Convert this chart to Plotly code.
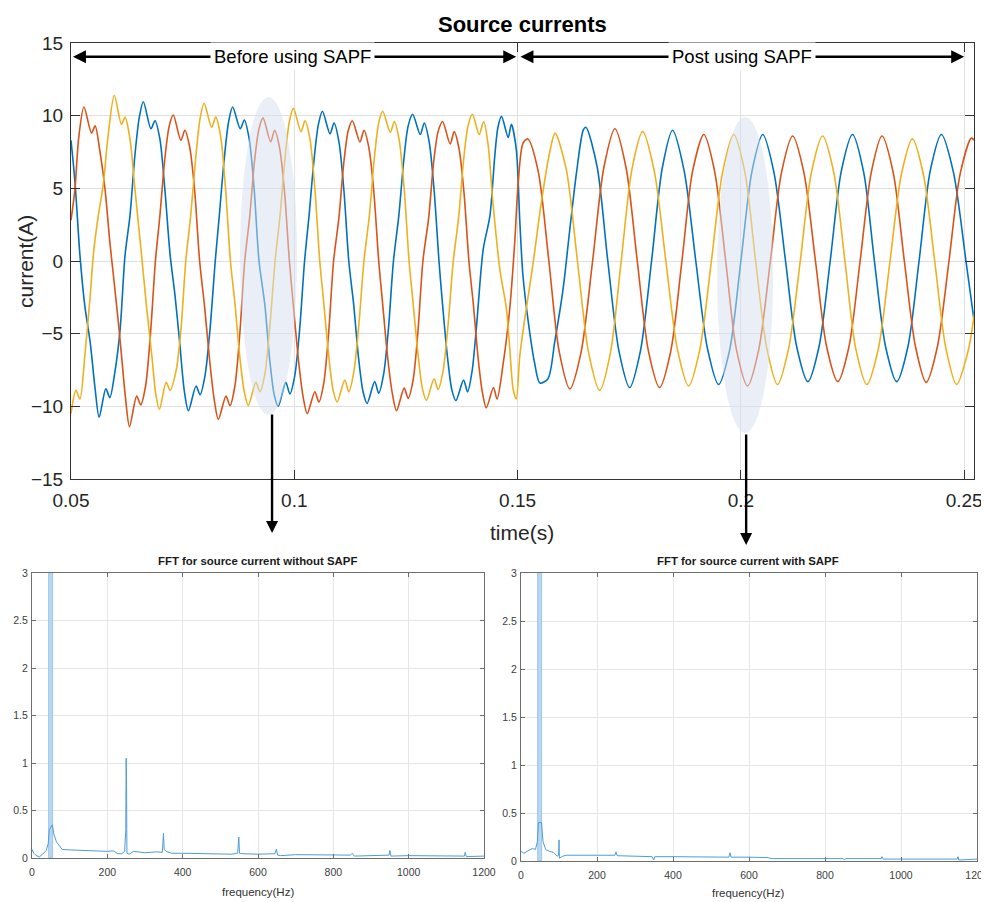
import plotly.graph_objects as go

# ---------------- data ----------------
# three-phase source currents, time in ms
time_blue_ms = [50.0, 50.9, 52.0, 53.1, 54.3, 55.4, 56.3, 57.8, 58.7, 59.8, 61.0, 62.1, 63.2, 64.3, 65.3, 66.2, 67.9, 68.8, 69.9, 71.0,
                72.2, 73.3, 74.3, 75.4, 76.3, 78.0, 78.9, 80.0, 81.1, 82.3, 83.2, 84.3, 85.3, 86.2, 87.9, 88.8, 89.9, 91.0, 92.1,
                93.4, 94.5, 95.5, 96.4, 98.1, 99.0, 100.1, 101.2, 102.3, 103.3, 104.4, 105.4, 106.3, 108.0, 108.9, 110.0, 111.1, 112.2,
                113.3, 114.4, 115.4, 116.3, 118.0, 118.9, 120.0, 121.1, 122.2, 123.4, 124.5, 125.5, 126.5, 128.2, 129.1, 130.2, 131.3, 132.4,
                133.2, 134.3, 135.3, 136.2, 137.9, 138.8, 139.8, 140.8, 142.3, 143.8, 144.9, 145.6, 146.4, 147.9, 148.6, 149.7,
                150.5, 151.2, 152.4, 153.8, 155.0, 156.8, 158.3, 160.2, 161.7, 163.2, 164.7, 165.3,
                167.8, 170.2, 172.7, 175.1, 177.5, 180.0, 182.4, 184.7, 187.3, 189.9, 192.5, 195.0, 197.5, 200.0, 202.5, 204.9,
                207.4, 210.0, 212.5, 215.0, 217.5, 220.0, 222.5, 225.0, 227.5, 229.9, 232.4, 234.9, 237.4, 239.9, 242.4, 244.9,
                247.6, 250.4, 252.3]
cur_blue = [8.3, 5.4, 0.4, -3.1, -5.6, -8.8, -10.75, -8.8, -9.4, -7.7, -4.7, 0.4, 3.1, 7.25, 9.9, 10.96, 9.1, 9.65, 8.4, 5.0,
            0.4, -2.4, -5.5, -9.0, -10.3, -8.6, -9.2, -7.9, -4.8, 0.0, 3.1, 7.0, 9.6, 10.6, 9.1, 9.7, 8.4, 5.0, 0.0,
            -3.0, -6.8, -9.2, -10.0, -8.35, -9.15, -7.9, -4.7, 0.0, 3.1, 6.9, 9.4, 10.3, 8.75, 9.5, 8.2, 4.9, 0.0,
            -3.0, -6.7, -9.0, -9.8, -8.3, -9.1, -7.8, -4.6, 0.0, 3.1, 6.9, 9.3, 10.1, 8.7, 9.5, 8.2, 4.9, 0.0,
            -3.0, -6.6, -8.9, -9.6, -8.2, -9.0, -7.6, -4.5, 0.8, 3.1, 7.25, 9.2, 9.95, 8.5, 9.4, 7.7,
            2.7, -1.0, -4.2, -7.0, -8.4, -8.1, -5.6, -1.9, 2.2, 6.1, 9.0, 9.2,
            6.5, 0.0, -6.2, -8.7, -6.2, 0.0, 6.4, 9.0, 6.2, 0.0, -6.0, -8.5, -6.1, 0.0, 6.2, 8.7,
            6.1, 0.0, -5.9, -8.3, -5.9, 0.0, 6.2, 8.7, 6.1, 0.0, -5.9, -8.3, -5.9, 0.0, 6.2, 8.7,
            6.1, 0.0, -4.3]

time_red_ms = [50.0, 50.9, 51.7, 52.9, 54.6, 55.4, 56.5, 57.6, 58.7, 59.5, 60.6, 61.4, 62.2, 63.1, 64.7, 65.6, 66.7, 67.8, 68.9,
               69.9, 71.0, 72.0, 72.9, 74.6, 75.5, 76.6, 77.7, 78.8, 79.9, 81.1, 82.1, 83.0, 84.7, 85.6, 86.7, 87.8, 88.9,
               90.0, 91.1, 92.1, 93.0, 94.7, 95.6, 96.7, 97.8, 98.9, 99.8, 101.0, 102.0, 102.9, 104.6, 105.5, 106.6, 107.7, 108.8,
               110.0, 111.1, 112.1, 113.0, 114.7, 115.6, 116.7, 117.8, 118.9, 119.8, 121.0, 122.0, 122.9, 124.6, 125.5, 126.6, 127.7, 128.8,
               130.1, 131.2, 132.2, 133.2, 134.9, 135.8, 136.9, 138.0, 139.1, 140.1, 141.2, 142.1, 143.0, 144.6, 145.4, 146.8,
               148.3, 149.4, 150.1, 151.2, 152.3,
               154.6, 157.0, 159.3, 161.7, 164.2, 166.8, 169.3, 171.8, 174.3, 176.8, 179.3, 181.8, 184.3, 186.8, 189.2, 191.7,
               194.1, 196.6, 199.0, 201.5, 204.0, 206.6, 209.1, 211.6, 214.1, 216.7, 219.2, 221.7, 224.2, 226.7, 229.2, 231.6,
               234.1, 236.6, 239.1, 241.5, 244.0, 246.6, 249.1, 251.6, 252.3]
cur_red = [2.8, 5.0, 8.4, 10.6, 8.8, 9.3, 7.5, 5.0, 1.3, -1.0, -4.2, -6.8, -9.4, -11.4, -9.3, -9.9, -8.6, -5.0, 0.0,
           3.1, 7.0, 9.3, 10.05, 8.3, 9.0, 7.8, 4.8, 0.0, -3.1, -7.0, -9.6, -10.9, -9.3, -9.95, -8.6, -5.0, 0.0,
           3.0, 6.9, 9.1, 9.85, 8.2, 9.0, 7.8, 4.8, 0.0, -3.1, -7.0, -9.4, -10.5, -9.0, -9.7, -8.4, -4.9, 0.0,
           3.0, 6.8, 9.0, 9.65, 8.2, 9.0, 7.8, 4.8, 0.0, -3.0, -6.9, -9.2, -10.3, -8.75, -9.45, -8.2, -4.8, 0.0,
           3.0, 6.8, 8.9, 9.6, 8.05, 8.9, 7.7, 4.7, 0.0, -3.0, -6.8, -9.0, -10.1, -8.7, -9.5, -7.0,
           -3.1, 1.5, 5.2, 8.1, 8.4,
           6.2, 0.0, -6.2, -8.8, -6.3, 0.0, 6.4, 9.1, 6.4, 0.0, -6.2, -8.7, -6.2, 0.0, 6.2, 8.7,
           6.2, 0.0, -6.1, -8.6, -6.1, 0.0, 6.1, 8.6, 6.1, 0.0, -5.9, -8.3, -5.9, 0.0, 6.1, 8.6,
           6.1, 0.0, -5.9, -8.35, -5.9, 0.0, 6.0, 8.45, 8.3]

time_yellow_ms = [50.0, 51.1, 52.0, 53.1, 54.3, 55.0, 56.1, 57.2, 58.3, 59.7, 61.3, 62.1, 63.2, 64.3, 65.8, 66.9, 68.1, 69.0, 69.8,
                  71.3, 72.2, 73.5, 74.6, 75.7, 76.8, 77.9, 78.9, 79.8, 81.5, 82.4, 83.5, 84.6, 85.7,
                  86.7, 87.8, 88.8, 89.7, 91.4, 92.3, 93.4, 94.5, 95.7, 96.8, 97.9, 98.9, 99.8, 101.5, 102.4, 103.5, 104.6, 105.7,
                  106.6, 107.7, 108.7, 109.6, 111.3, 112.2, 113.3, 114.4, 115.6, 116.8, 117.9, 118.9, 119.8, 121.5, 122.4, 123.5, 124.6, 125.7,
                  126.6, 127.7, 128.7, 129.6, 131.3, 132.2, 133.3, 134.4, 135.6, 136.8, 137.9, 138.9, 139.9, 141.4, 142.4, 143.4,
                  144.4, 146.0, 147.5, 148.2, 149.0, 149.7, 150.5, 151.6, 153.5, 155.3, 157.2, 158.4,
                  160.9, 163.4, 165.9, 168.4, 170.8, 173.2, 175.6, 178.0, 180.6, 183.2, 185.8, 188.3, 190.8, 193.4, 195.9, 198.4,
                  200.9, 203.3, 205.8, 208.2, 210.7, 213.3, 215.8, 218.3, 220.8, 223.3, 225.7, 228.2, 230.8, 233.4, 235.9, 238.4,
                  240.9, 243.4, 245.9, 248.3, 250.8, 252.3]
cur_yellow = [-10.5, -8.9, -9.5, -6.5, -2.4, 0.4, 3.1, 5.2, 8.6, 11.4, 9.4, 9.9, 8.4, 5.0, 0.4, -3.1, -6.5, -9.2, -10.2,
              -8.35, -8.9, -7.6, -4.8, 0.0, 3.1, 7.0, 9.8, 10.85, 9.2, 9.9, 8.6, 5.0, 0.0,
              -2.9, -6.6, -9.0, -9.95, -8.35, -9.0, -7.8, -4.6, 0.0, 3.1, 7.0, 9.6, 10.5, 8.9, 9.65, 8.4, 5.0, 0.0,
              -2.9, -6.5, -8.9, -9.7, -8.2, -9.0, -7.7, -4.6, 0.0, 3.1, 7.0, 9.5, 10.3, 8.85, 9.6, 8.3, 5.0, 0.0,
              -2.9, -6.4, -8.8, -9.6, -8.1, -8.85, -7.6, -4.5, 0.0, 3.0, 6.9, 9.3, 10.1, 8.7, 9.6, 8.0,
              4.3, -0.5, -3.3, -5.8, -8.8, -9.5, -6.5, -4.0, -0.1, 4.0, 7.5, 8.8,
              6.3, 0.0, -6.3, -8.9, -6.3, 0.0, 6.3, 8.9, 6.2, 0.0, -6.1, -8.6, -6.1, 0.0, 6.1, 8.7,
              6.1, 0.0, -6.0, -8.5, -6.0, 0.0, 6.1, 8.6, 6.1, 0.0, -6.0, -8.5, -6.0, 0.0, 5.9, 8.4,
              5.9, 0.0, -6.0, -8.5, -6.3, -3.6]

time_ticks = [0.05, 0.1, 0.15, 0.2, 0.25]
time_tick_labels = ["0.05", "0.1", "0.15", "0.2", "0.25"]
current_ticks = [-15, -10, -5, 0, 5, 10, 15]

# FFT spectra
fft_freq_before = [0, 5, 10, 19, 28, 38, 43, 46, 54, 58, 65, 72, 80, 100, 150, 200, 216, 228, 238, 246, 249, 250, 251, 252,
                   258, 270, 285, 300, 330, 346, 349, 351, 356, 370, 400, 500, 530, 546, 549, 551, 560, 600, 645, 649, 652,
                   660, 700, 800, 845, 850, 856, 900, 948, 950, 953, 1000, 1100, 1148, 1150, 1153, 1200]
fft_mag_before = [0.09, 0.05, 0.03, 0.01, 0.04, 0.08, 0.15, 0.3, 0.35, 0.25, 0.17, 0.13, 0.09, 0.085, 0.075, 0.07, 0.075, 0.045,
                  0.045, 0.07, 0.3, 1.05, 0.8, 0.05, 0.04, 0.07, 0.06, 0.055, 0.065, 0.06, 0.26, 0.09, 0.07, 0.05, 0.05, 0.045,
                  0.04, 0.05, 0.22, 0.05, 0.045, 0.04, 0.045, 0.095, 0.03, 0.025, 0.035, 0.032, 0.03, 0.05, 0.02, 0.025, 0.03,
                  0.08, 0.02, 0.025, 0.022, 0.02, 0.06, 0.015, 0.02]
fft_freq_after = [0, 8, 20, 30, 38, 43, 46, 54, 58, 65, 75, 85, 95, 99, 100, 101, 110, 120, 200, 247, 250, 253, 300, 345, 349,
                  352, 400, 500, 547, 550, 553, 600, 650, 660, 800, 848, 851, 854, 948, 950, 953, 1000, 1100, 1148, 1150, 1152, 1200]
fft_mag_after = [0.1, 0.08, 0.11, 0.13, 0.12, 0.2, 0.4, 0.4, 0.2, 0.12, 0.1, 0.09, 0.05, 0.06, 0.22, 0.03, 0.05, 0.06, 0.06,
                 0.06, 0.095, 0.055, 0.05, 0.045, 0.01, 0.045, 0.045, 0.04, 0.04, 0.085, 0.04, 0.04, 0.035, 0.025, 0.025, 0.025,
                 0.01, 0.025, 0.025, 0.045, 0.02, 0.02, 0.02, 0.02, 0.045, 0.01, 0.02]
fund_freq = [50]
fund_mag_before = [8.0]
fund_mag_after = [7.0]
freq_ticks = [0, 200, 400, 600, 800, 1000, 1200]
mag_ticks = [0, 0.5, 1, 1.5, 2, 2.5, 3]
mag_tick_labels = ["0", "0.5", "1", "1.5", "2", "2.5", "3"]

# ---------------- figure ----------------
# the page body has an 8px margin, so the figure starts at (8, 8) of the window
OX, OY = 8, 8
W, H = 989 - OX, 902 - OY
ARIAL = "Liberation Sans, Arial, sans-serif"

fig = go.Figure()
for tms, cur, col in [(time_blue_ms, cur_blue, "#0072BD"),
                      (time_red_ms, cur_red, "#D95319"),
                      (time_yellow_ms, cur_yellow, "#EDB120")]:
    fig.add_trace(go.Scatter(x=[t / 1000.0 for t in tms], y=cur, mode="lines",
                             line=dict(color=col, width=1.6, shape="spline", smoothing=0.8),
                             xaxis="x", yaxis="y", hoverinfo="skip"))

fft_line = "#4E9CD8"
fig.add_trace(go.Bar(x=fund_freq, y=fund_mag_before, width=9, marker=dict(color="#B8D7EF", line=dict(color="#8EC0E6", width=0.8)),
                     xaxis="x2", yaxis="y2"))
fig.add_trace(go.Scatter(x=fft_freq_before, y=fft_mag_before, mode="lines", line=dict(color=fft_line, width=1),
                         xaxis="x2", yaxis="y2"))
fig.add_trace(go.Bar(x=fund_freq, y=fund_mag_after, width=9, marker=dict(color="#B8D7EF", line=dict(color="#8EC0E6", width=0.8)),
                     xaxis="x3", yaxis="y3"))
fig.add_trace(go.Scatter(x=fft_freq_after, y=fft_mag_after, mode="lines", line=dict(color=fft_line, width=1),
                         xaxis="x3", yaxis="y3"))


def px_x(p):
    return (p - OX) / W


def px_y(p):
    return 1 - (p - OY) / H


main_ax = dict(showline=True, linecolor="#333333", linewidth=1, mirror="ticks", ticks="inside", tickcolor="#333333",
               showgrid=True, gridcolor="#E0E0E0", gridwidth=1, zeroline=False, automargin=False,
               tickfont=dict(family=ARIAL, size=19, color="#262626"))
fft_ax = dict(showline=True, linecolor="#6E6E6E", linewidth=1, mirror="ticks", ticks="inside", tickcolor="#6E6E6E", ticklen=4,
              showgrid=True, gridcolor="#E6E6E6", gridwidth=1, zeroline=False, automargin=False,
              tickfont=dict(family=ARIAL, size=10.5, color="#404040"))

fig.update_layout(
    width=W, height=H, margin=dict(l=0, r=0, t=0, b=0, autoexpand=False), paper_bgcolor="white", plot_bgcolor="white",
    showlegend=False, bargap=0,
    xaxis=dict(main_ax, domain=[px_x(71), px_x(974)], range=[0.05, 0.2522], tickvals=time_ticks, ticktext=time_tick_labels,
               ticklen=9, anchor="y", ticklabelstandoff=4),
    yaxis=dict(main_ax, domain=[px_y(479), px_y(43)], range=[-15, 15], tickvals=current_ticks, ticklen=9, anchor="x",
               ticklabelstandoff=3),
    xaxis2=dict(fft_ax, domain=[px_x(32), px_x(484)], range=[0, 1200], tickvals=freq_ticks, anchor="y2", ticklabelstandoff=4),
    yaxis2=dict(fft_ax, domain=[px_y(858), px_y(573)], range=[0, 3], tickvals=mag_ticks, ticktext=mag_tick_labels, anchor="x2",
                ticklabelstandoff=1),
    xaxis3=dict(fft_ax, domain=[px_x(521), px_x(977)], range=[0, 1200], tickvals=freq_ticks, anchor="y3", ticklabelstandoff=4),
    yaxis3=dict(fft_ax, domain=[px_y(861), px_y(573)], range=[0, 3], tickvals=mag_ticks, ticktext=mag_tick_labels, anchor="x3",
                ticklabelstandoff=1),
)

# highlight ellipses
ell = dict(type="circle", xref="x", yref="y", fillcolor="rgba(214,224,240,0.5)", line=dict(width=0), layer="above")
fig.add_shape(ell, x0=0.08785, x1=0.10062, y0=-10.6, y1=11.28)
fig.add_shape(ell, x0=0.19468, x1=0.20722, y0=-11.83, y1=9.91)

C = dict(xanchor="center", yanchor="middle", showarrow=False)
ann = []
# double-headed span arrows
ann.append(dict(x=0.1497, y=14.05, ax=0.0501, ay=14.05, xref="x", yref="y", axref="x", ayref="y", text="",
                showarrow=True, arrowhead=2, arrowside="end+start", arrowwidth=2.6, arrowsize=1, arrowcolor="black"))
ann.append(dict(x=0.2500, y=14.05, ax=0.1503, ay=14.05, xref="x", yref="y", axref="x", ayref="y", text="",
                showarrow=True, arrowhead=2, arrowside="end+start", arrowwidth=2.6, arrowsize=1, arrowcolor="black"))
ann.append(dict(C, x=0.0995, y=14.05, xref="x", yref="y", text="Before using SAPF",
                font=dict(family=ARIAL, size=18.5, color="black"), bgcolor="white", borderpad=3))
ann.append(dict(C, x=0.2002, y=14.05, xref="x", yref="y", text="Post using SAPF",
                font=dict(family=ARIAL, size=18.5, color="black"), bgcolor="white", borderpad=3))
# down arrows from ellipses
ann.append(dict(x=0.09502, y=px_y(533), xref="x", yref="paper", ax=0, ay=-120, text="", showarrow=True,
                arrowhead=2, arrowwidth=2.4, arrowsize=1, arrowcolor="black"))
ann.append(dict(x=0.20118, y=px_y(545), xref="x", yref="paper", ax=0, ay=-112, text="", showarrow=True,
                arrowhead=2, arrowwidth=2.4, arrowsize=1, arrowcolor="black"))
# titles and axis labels
ann.append(dict(C, x=px_x(522), y=px_y(25), xref="paper", yref="paper", text="<b>Source currents</b>",
                font=dict(family=ARIAL, size=22, color="black")))
ann.append(dict(C, x=px_x(522), y=px_y(532), xref="paper", yref="paper", text="time(s)",
                font=dict(family=ARIAL, size=21, color="#262626")))
ann.append(dict(C, x=px_x(25), y=px_y(262), xref="paper", yref="paper", text="current(A)", textangle=-90,
                font=dict(family=ARIAL, size=21, color="#262626")))
ann.append(dict(C, x=px_x(258), y=px_y(561), xref="paper", yref="paper", text="<b>FFT for source current without SAPF</b>",
                font=dict(family=ARIAL, size=11.4, color="#1A1A1A")))
ann.append(dict(C, x=px_x(748), y=px_y(561), xref="paper", yref="paper", text="<b>FFT for source current with SAPF</b>",
                font=dict(family=ARIAL, size=11.4, color="#1A1A1A")))
ann.append(dict(C, x=px_x(258), y=px_y(892), xref="paper", yref="paper", text="frequency(Hz)",
                font=dict(family=ARIAL, size=11.5, color="#333333")))
ann.append(dict(C, x=px_x(748), y=px_y(893), xref="paper", yref="paper", text="frequency(Hz)",
                font=dict(family=ARIAL, size=11.5, color="#333333")))
fig.update_layout(annotations=ann)

fig.write_html("out.html")
